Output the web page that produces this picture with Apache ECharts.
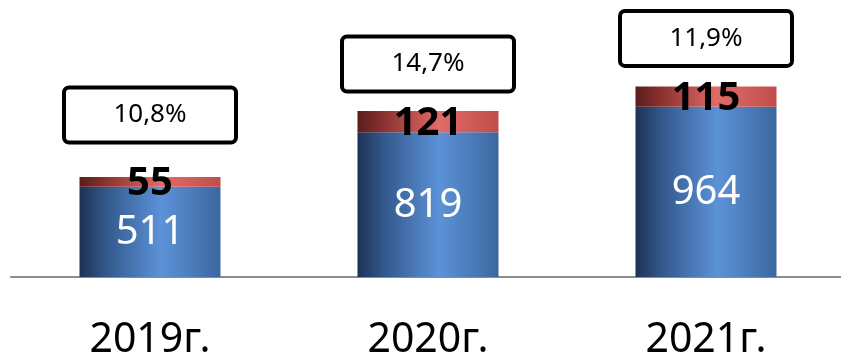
<!DOCTYPE html>
<html>
<head>
<meta charset="utf-8">
<script src="https://cdn.jsdelivr.net/npm/echarts@6/dist/echarts.min.js"></script>
<style>
  html, body { margin: 0; padding: 0; background: #ffffff; }
  #chart { width: 841px; height: 356px; }
</style>
</head>
<body>
<div id="chart"></div>
<script>
// Years shown along the axis
const years = ['2019г.', '2020г.', '2021г.'];
// Lower (blue) part of each column
const baseValues = [511, 819, 964];
// Upper (red) part of each column
const topValues = [55, 121, 115];
// Share labels shown in the boxes above the columns
const shareLabels = ['10,8%', '14,7%', '11,9%'];

// Gap (px) between each column top and its share box
const boxLift = [36, 21, 22];

const totals = baseValues.map((v, i) => v + topValues[i]);

const FONT = '"Noto Sans", "DejaVu Sans", sans-serif';

function hGrad(stops) {
  return new echarts.graphic.LinearGradient(0, 0, 1, 0,
    stops.map(s => ({ offset: s[0], color: s[1] })));
}

const blueFill = hGrad([
  [0, '#1d3252'], [0.18, '#32578a'], [0.58, '#5c92d8'], [1, '#3c679f']
]);
const redFill = hGrad([
  [0, '#5a1c1c'], [0.2, '#8e3432'], [0.58, '#e26b67'], [1, '#bf4e4b']
]);

const chart = echarts.init(document.getElementById('chart'), null, { renderer: 'canvas' });

chart.setOption({
  animation: false,
  backgroundColor: '#ffffff',
  grid: {
    left: 11, right: -4, top: 12, bottom: 79,
    containLabel: false,
    outerBoundsMode: 'none'
  },
  xAxis: {
    type: 'category',
    data: years,
    axisLine: { show: true, lineStyle: { color: '#8c8c8c', width: 2 } },
    axisTick: { show: false },
    axisLabel: {
      color: '#000000',
      fontFamily: FONT,
      fontSize: 41,
      margin: 43
    }
  },
  yAxis: {
    type: 'value',
    min: 0,
    max: 1500,
    show: false,
    splitLine: { show: false }
  },
  series: [
    {
      name: 'base',
      type: 'bar',
      stack: 'total',
      barWidth: 141,
      data: baseValues,
      itemStyle: { color: blueFill },
      label: {
        show: true,
        position: 'inside',
        offset: [0, 1],
        color: '#ffffff',
        fontFamily: FONT,
        fontSize: 40
      },
      z: 2
    },
    {
      name: 'top',
      type: 'bar',
      stack: 'total',
      barWidth: 141,
      data: topValues,
      itemStyle: { color: redFill },
      label: {
        show: true,
        position: 'inside',
        offset: [0, 2],
        color: '#000000',
        fontFamily: FONT,
        fontWeight: 'bold',
        fontSize: 40,
        textBorderWidth: 0
      },
      z: 3
    },
    {
      name: 'share',
      type: 'scatter',
      symbol: 'rect',
      symbolSize: 1,
      silent: true,
      itemStyle: { color: 'rgba(0,0,0,0)', opacity: 1 },
      emphasis: { disabled: true },
      data: totals.map((t, i) => ({
        value: [i, t],
        label: {
          distance: boxLift[i],
          formatter: shareLabels[i]
        }
      })),
      label: {
        show: true,
        position: 'top',
        color: '#000000',
        opacity: 1,
        fontFamily: FONT,
        fontSize: 26,
        backgroundColor: '#ffffff',
        borderColor: '#000000',
        borderWidth: 4,
        borderRadius: 3,
        width: 168,
        height: 51,
        lineHeight: 51,
        align: 'center',
        padding: 0,
        shadowBlur: 0,
        shadowColor: 'rgba(0,0,0,0)',
        textShadowBlur: 0,
        textShadowColor: 'rgba(0,0,0,0)',
        textBorderWidth: 0
      },
      z: 4
    }
  ]
});
</script>
</body>
</html>
